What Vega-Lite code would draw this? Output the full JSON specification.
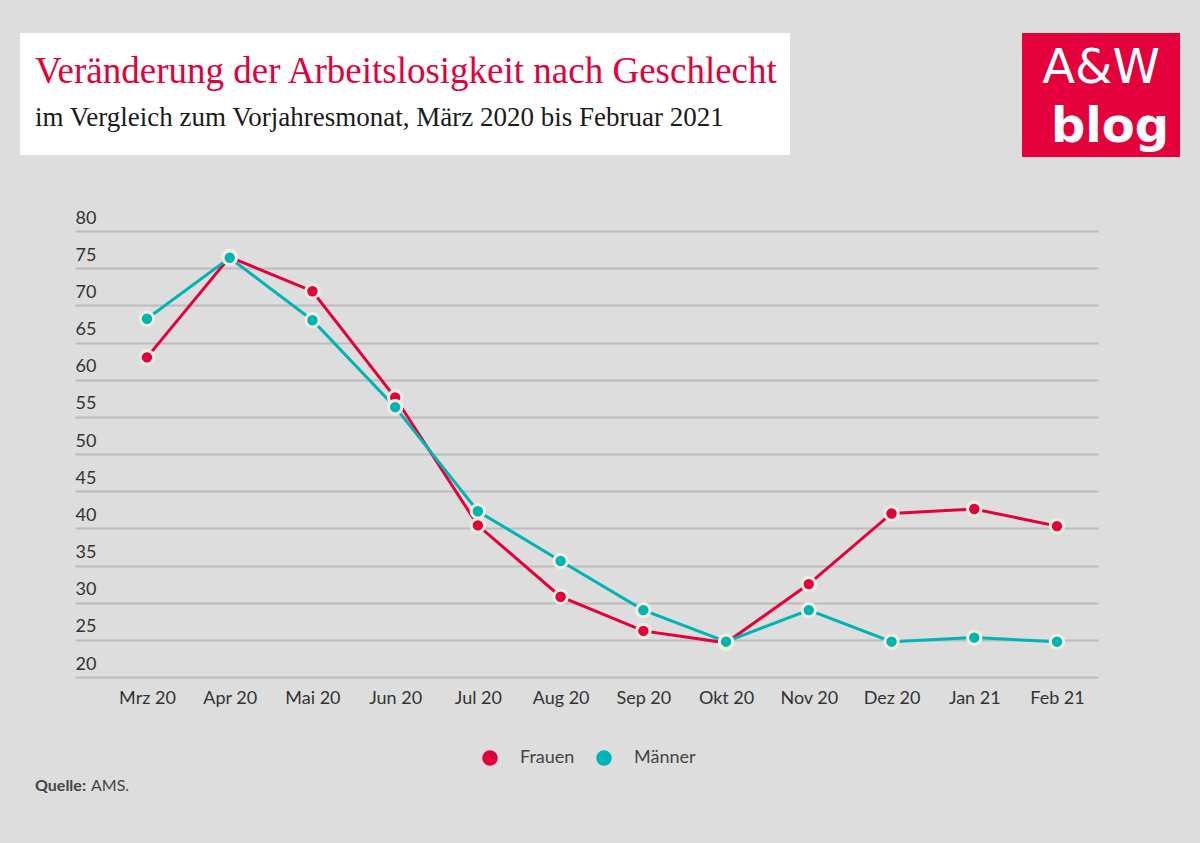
{
  "$schema": "https://vega.github.io/schema/vega-lite/v6.json",
  "background": "#dddddd",
  "padding": {"left": 20, "top": 33, "right": 20, "bottom": 48},
  "spacing": 52,
  "config": {
    "view": {"stroke": null},
    "font": "Lato"
  },
  "resolve": {"scale": {"color": "independent"}, "legend": {"color": "independent"}},
  "datasets": {
    "series": [
      {"month": "Mrz 20", "group": "Frauen", "value": 63.0},
      {"month": "Apr 20", "group": "Frauen", "value": 76.5},
      {"month": "Mai 20", "group": "Frauen", "value": 71.9},
      {"month": "Jun 20", "group": "Frauen", "value": 57.6},
      {"month": "Jul 20", "group": "Frauen", "value": 40.4},
      {"month": "Aug 20", "group": "Frauen", "value": 30.8},
      {"month": "Sep 20", "group": "Frauen", "value": 26.2},
      {"month": "Okt 20", "group": "Frauen", "value": 24.6},
      {"month": "Nov 20", "group": "Frauen", "value": 32.5},
      {"month": "Dez 20", "group": "Frauen", "value": 42.0},
      {"month": "Jan 21", "group": "Frauen", "value": 42.6},
      {"month": "Feb 21", "group": "Frauen", "value": 40.3},
      {"month": "Mrz 20", "group": "Männer", "value": 68.2},
      {"month": "Apr 20", "group": "Männer", "value": 76.4},
      {"month": "Mai 20", "group": "Männer", "value": 68.0},
      {"month": "Jun 20", "group": "Männer", "value": 56.3},
      {"month": "Jul 20", "group": "Männer", "value": 42.3},
      {"month": "Aug 20", "group": "Männer", "value": 35.6},
      {"month": "Sep 20", "group": "Männer", "value": 29.0},
      {"month": "Okt 20", "group": "Männer", "value": 24.75},
      {"month": "Nov 20", "group": "Männer", "value": 29.0},
      {"month": "Dez 20", "group": "Männer", "value": 24.75},
      {"month": "Jan 21", "group": "Männer", "value": 25.3},
      {"month": "Feb 21", "group": "Männer", "value": 24.75}
    ]
  },
  "vconcat": [
    {
      "hconcat": [
        {
          "width": 770,
          "height": 122,
          "view": {"fill": "#ffffff", "stroke": null},
          "data": {"values": [
            {"kind": "title", "text": "Veränderung der Arbeitslosigkeit nach Geschlecht"},
            {"kind": "subtitle", "text": "im Vergleich zum Vorjahresmonat, März 2020 bis Februar 2021"}
          ]},
          "encoding": {
            "x": {"datum": 0, "type": "quantitative", "scale": {"domain": [0, 1], "range": [15, 770]}, "axis": null},
            "y": {"field": "kind", "type": "nominal", "scale": {"type": "point", "domain": ["title", "subtitle"], "range": [50, 93], "padding": 0}, "axis": null},
            "text": {"field": "text"}
          },
          "layer": [
            {
              "transform": [{"filter": "datum.kind === 'title'"}],
              "mark": {"type": "text", "align": "left", "baseline": "alphabetic", "font": "Liberation Serif", "fontSize": 37, "color": "#e3003b"}
            },
            {
              "transform": [{"filter": "datum.kind === 'subtitle'"}],
              "mark": {"type": "text", "align": "left", "baseline": "alphabetic", "font": "Liberation Serif", "fontSize": 27, "color": "#1a1a1a"}
            }
          ]
        },
        {
          "width": 158,
          "height": 124,
          "view": {"fill": "#e3003b", "stroke": null},
          "data": {"values": [
            {"kind": "top", "text": "A&W"},
            {"kind": "bottom", "text": "blog"}
          ]},
          "encoding": {
            "y": {"field": "kind", "type": "nominal", "scale": {"type": "point", "domain": ["top", "bottom"], "range": [50, 109], "padding": 0}, "axis": null},
            "text": {"field": "text"}
          },
          "layer": [
            {
              "transform": [{"filter": "datum.kind === 'top'"}],
              "mark": {"type": "text", "align": "center", "baseline": "alphabetic", "font": "DejaVu Sans", "fontSize": 48, "color": "#ffffff"}
            },
            {
              "transform": [{"filter": "datum.kind === 'bottom'"}],
              "mark": {"type": "text", "align": "center", "baseline": "alphabetic", "dx": 9, "font": "DejaVu Sans", "fontWeight": "bold", "fontSize": 48, "color": "#ffffff"}
            }
          ]
        }
      ],
      "spacing": 232,
      "bounds": "flush"
    },
    {
      "resolve": {"scale": {"color": "independent"}, "legend": {"color": "independent"}},
      "spacing": 8,
      "vconcat": [
        {
          "resolve": {"scale": {"color": "independent"}, "legend": {"color": "independent"}},
          "hconcat": [
            {
              "width": 55,
              "height": 446,
              "data": {"values": []},
              "mark": {"type": "text", "text": ""}
            },
            {
              "width": 1023,
              "height": 446,
              "data": {"name": "series"},
              "encoding": {
                "x": {
                  "field": "month", "type": "nominal", "sort": null,
                  "scale": {"type": "point", "padding": 0.683, "align": 0.637},
                  "axis": {"title": null, "labelAngle": 0, "domain": false, "ticks": false, "tickSize": 0, "labelPadding": 12, "labelFont": "Lato", "labelFontSize": 18, "labelColor": "#333333", "grid": false}
                },
                "y": {
                  "field": "value", "type": "quantitative",
                  "scale": {"domain": [20, 80], "nice": false, "zero": false},
                  "axis": {"title": null, "values": [20, 25, 30, 35, 40, 45, 50, 55, 60, 65, 70, 75, 80], "domain": false, "ticks": false, "tickSize": 0, "labelAlign": "left", "labelBaseline": "alphabetic", "labelPadding": 0, "labelOffset": -8, "labelFont": "Lato", "labelFontSize": 18, "labelColor": "#333333", "grid": true, "gridColor": "#bcbcbc", "gridWidth": 2}
                }
              },
              "layer": [
                {
                  "mark": {"type": "line", "strokeWidth": 3},
                  "encoding": {
                    "detail": {"field": "group", "type": "nominal"},
                    "stroke": {"condition": {"test": "datum.group === 'Frauen'", "value": "#e3003b"}, "value": "#00b4b4"}
                  }
                },
                {
                  "mark": {"type": "point", "filled": true, "size": 180, "stroke": "#f0efdf", "strokeWidth": 3, "opacity": 1},
                  "encoding": {
                    "color": {
                      "field": "group", "type": "nominal",
                      "scale": {"domain": ["Frauen", "Männer"], "range": ["#e3003b", "#00b4b4"]},
                      "legend": {
                        "orient": "none", "legendX": 406, "legendY": 518, "direction": "horizontal", "title": null, "padding": 0,
                        "symbolType": "circle", "symbolSize": 240, "symbolStrokeWidth": 0, "symbolStrokeColor": "transparent", "symbolOpacity": 1,
                        "labelFont": "Lato", "labelFontSize": 18, "labelColor": "#444444", "labelOffset": 21, "columnPadding": 20,
                        "encode": {"symbols": {"update": {"size": {"value": 240}, "strokeWidth": {"value": 0}}}}
                      }
                    }
                  }
                }
              ]
            }
          ],
          "spacing": 0,
          "bounds": "flush"
        },
        {
          "width": 200,
          "height": 22,
          "data": {"values": [{"part": "Quelle:"}, {"part": "AMS."}]},
          "encoding": {
            "x": {"field": "part", "type": "nominal", "sort": null, "scale": {"type": "point", "domain": ["Quelle:", "AMS."], "range": [15, 71], "padding": 0}, "axis": null},
            "text": {"field": "part"}
          },
          "layer": [
            {
              "transform": [{"filter": "datum.part === 'Quelle:'"}],
              "mark": {"type": "text", "align": "left", "baseline": "middle", "font": "Lato", "fontWeight": "bold", "fontSize": 16, "color": "#444444"}
            },
            {
              "transform": [{"filter": "datum.part === 'AMS.'"}],
              "mark": {"type": "text", "align": "left", "baseline": "middle", "font": "Lato", "fontSize": 16, "color": "#444444"}
            }
          ]
        }
      ]
    }
  ]
}
